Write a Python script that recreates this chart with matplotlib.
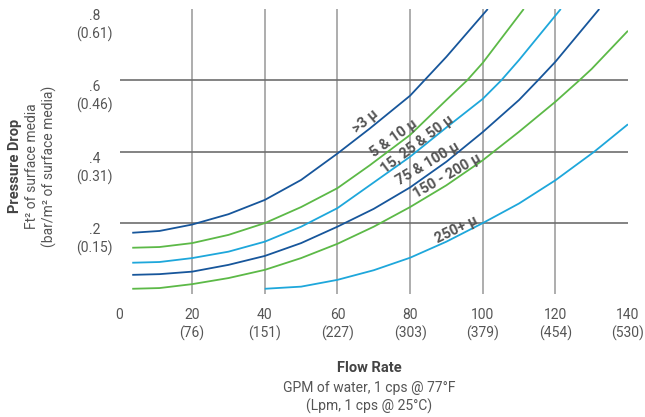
import matplotlib
matplotlib.use("Agg")
import matplotlib.pyplot as plt

plt.rcParams['font.family'] = ['Roboto', 'DejaVu Sans']

# values (flow GPM -> pressure drop)
x_3 = [3.5, 11, 20, 30, 40, 50, 60, 68.9, 80, 90, 101.4]
y_3 = [0.173, 0.178, 0.196, 0.225, 0.265, 0.321, 0.395, 0.465, 0.557, 0.666, 0.8]

x_5_10 = [3.5, 11, 20, 30, 40, 50, 60, 68.9, 80, 90, 95.7, 100, 111.3]
y_5_10 = [0.131, 0.133, 0.144, 0.167, 0.200, 0.245, 0.298, 0.362, 0.447, 0.545,
          0.6, 0.649, 0.8]

x_15_50 = [3.5, 11, 20, 30, 40, 50, 60, 68.9, 80, 90, 100, 105.1, 110, 121.5]
y_15_50 = [0.089, 0.091, 0.102, 0.120, 0.148, 0.190, 0.242, 0.306, 0.386, 0.468,
           0.548, 0.6, 0.657, 0.8]

x_75_100 = [3.5, 11, 20, 30, 40, 50, 60, 70, 80, 90, 100, 110, 115.2, 120, 132.1]
y_75_100 = [0.055, 0.057, 0.064, 0.083, 0.108, 0.144, 0.190, 0.240, 0.300, 0.372,
            0.455, 0.545, 0.6, 0.652, 0.8]

x_150_200 = [3.5, 11, 20, 30, 40, 50, 60, 70, 80, 90, 100, 110, 120, 126.6, 130,
             140]
y_150_200 = [0.016, 0.018, 0.029, 0.046, 0.069, 0.102, 0.142, 0.190, 0.245, 0.306,
             0.376, 0.456, 0.540, 0.6, 0.632, 0.739]

x_250 = [40, 50, 60, 70, 80, 90, 100, 110, 120, 130.7, 140]
y_250 = [0.016, 0.022, 0.041, 0.068, 0.103, 0.148, 0.2, 0.255, 0.320, 0.4, 0.477]

labels = [">3 μ", "5 & 10 μ", "15, 25 & 50 μ", "75 & 100 μ", "150 - 200 μ", "250+ μ"]

x_ticks = [0, 20, 40, 60, 80, 100, 120, 140]
x_ticklabels = ["0", "20\n(76)", "40\n(151)", "60\n(227)", "80\n(303)",
                "100\n(379)", "120\n(454)", "140\n(530)"]
y_ticks = [0.2, 0.4, 0.6, 0.8]
y_ticklabels = [".2\n(0.15)", ".4\n(0.31)", ".6\n(0.46)", ".8\n(0.61)"]

dark = "#17569b"
green = "#5cb947"
light = "#1ea7db"
txt = "#555555"

fig = plt.figure(figsize=(6.45, 4.17), dpi=100)
ax = fig.add_axes([0.1853, 0.2938, 0.7883, 0.6846])
ax.set_xlim(0, 140)
ax.set_ylim(0, 0.8)

# grid
for gx in x_ticks[1:-1]:
    ax.axvline(gx, color="#a0a0a0", lw=1.2, zorder=1)
for gy in y_ticks[:-1]:
    ax.axhline(gy, color="#6e6e6e", lw=1.2, zorder=1)

series = [(x_3, y_3, dark), (x_5_10, y_5_10, green), (x_15_50, y_15_50, light),
          (x_75_100, y_75_100, dark), (x_150_200, y_150_200, green),
          (x_250, y_250, light)]
for xs, ys, c in series:
    ax.plot(xs, ys, color=c, lw=1.3, zorder=2, solid_capstyle="butt",
            solid_joinstyle="round")

# curve labels
lab_pos = [(67.8, 0.484, 40), (75.5, 0.438, 36), (82.0, 0.420, 37),
           (85.0, 0.366, 31), (90.3, 0.333, 30), (92.8, 0.183, 26)]
for (lx, ly, rot), t in zip(lab_pos, labels):
    ax.text(lx, ly, t, rotation=rot, ha="center", va="center",
            rotation_mode="anchor", fontsize=10.5, fontweight="bold",
            color=txt, zorder=3)

for s in ax.spines.values():
    s.set_visible(False)

ax.set_xticks(x_ticks)
ax.set_xticklabels(x_ticklabels, linespacing=1.3)
ax.set_yticks(y_ticks)
ax.set_yticklabels(y_ticklabels, linespacing=1.3)
ax.tick_params(length=0, labelsize=10, labelcolor=txt)
ax.tick_params(axis="x", pad=9.5)
ax.tick_params(axis="y", pad=18)
for lbl in ax.get_yticklabels():
    lbl.set_ha("center")
    lbl.set_va("top")

# axis titles
fig.text(0.024, 0.602, "Pressure Drop", rotation=90, ha="center", va="center",
         fontsize=10.5, fontweight="bold", color="#444444")
fig.text(0.050, 0.602, "Ft² of surface media", rotation=90, ha="center",
         va="center", fontsize=10, color=txt)
fig.text(0.076, 0.602, "(bar/m² of surface media)", rotation=90, ha="center",
         va="center", fontsize=10, color=txt)

fig.text(0.572, 1 - 368 / 417, "Flow Rate", ha="center", va="center",
         fontsize=10.5, fontweight="bold", color="#444444")
fig.text(0.572, 1 - 388 / 417, "GPM of water, 1 cps @ 77°F", ha="center",
         va="center", fontsize=10, color=txt)
fig.text(0.572, 1 - 406 / 417, "(Lpm, 1 cps @ 25°C)", ha="center",
         va="center", fontsize=10, color=txt)

fig.savefig("out.png", dpi=100)
plt.close(fig)
